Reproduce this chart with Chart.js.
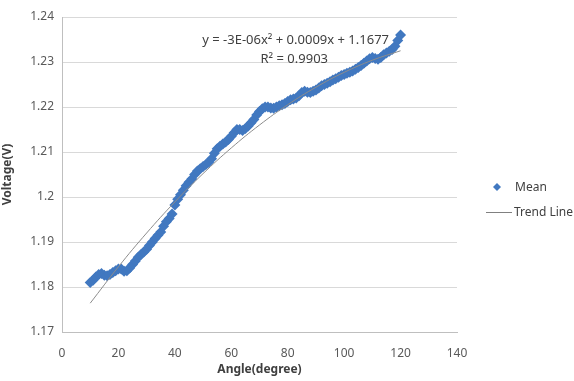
<!DOCTYPE html>
<html>
<head>
<meta charset="utf-8">
<script src="https://cdn.jsdelivr.net/npm/chart.js@4"></script>
<style>
  html, body { margin: 0; padding: 0; background: #fff; }
  #wrap { position: relative; width: 574px; height: 381px; }
</style>
</head>
<body>
<div id="wrap"><canvas id="chart" width="574" height="381"></canvas></div>
<script>
// Angle (degree) of each mean reading
const angles = [
  10, 11, 12, 13, 14, 15, 16, 17, 18, 19, 20, 21, 22, 23, 24, 25, 26, 27, 28, 29,
  30, 31, 32, 33, 34, 35, 36, 37, 38, 39, 40, 41, 42, 43, 44, 45, 46, 47, 48, 49,
  50, 51, 52, 53, 54, 55, 56, 57, 58, 59, 60, 61, 62, 63, 64, 65, 66, 67, 68, 69,
  70, 71, 72, 73, 74, 75, 76, 77, 78, 79, 80, 81, 82, 83, 84, 85, 86, 87, 88, 89,
  90, 91, 92, 93, 94, 95, 96, 97, 98, 99, 100, 101, 102, 103, 104, 105, 106, 107, 108, 109,
  110, 111, 112, 113, 114, 115, 116, 117, 118, 119, 120
];
// Mean voltage (V)
const meanVoltage = [
  1.1810, 1.1815, 1.1822, 1.1828, 1.1830, 1.1826, 1.1825, 1.1828, 1.1832, 1.1836,
  1.1840, 1.1840, 1.1835, 1.1836, 1.1842, 1.1850, 1.1858, 1.1866, 1.1872, 1.1878,
  1.1884, 1.1892, 1.1900, 1.1908, 1.1915, 1.1922, 1.1935, 1.1945, 1.1952, 1.1962,
  1.1982, 1.1995, 1.2005, 1.2015, 1.2025, 1.2033, 1.2040, 1.2050, 1.2058, 1.2063,
  1.2068, 1.2072, 1.2077, 1.2085, 1.2097, 1.2107, 1.2113, 1.2118, 1.2122, 1.2128,
  1.2135, 1.2143, 1.2150, 1.2150, 1.2148, 1.2152, 1.2158, 1.2165, 1.2172, 1.2182,
  1.2190, 1.2196, 1.2200, 1.2200, 1.2198, 1.2197, 1.2200, 1.2203, 1.2205, 1.2208,
  1.2212, 1.2216, 1.2218, 1.2220, 1.2225, 1.2232, 1.2235, 1.2233, 1.2232, 1.2235,
  1.2238, 1.2242, 1.2247, 1.2250, 1.2253, 1.2256, 1.2260, 1.2263, 1.2266, 1.2270,
  1.2272, 1.2275, 1.2277, 1.2280, 1.2284, 1.2288, 1.2292, 1.2297, 1.2302, 1.2307,
  1.2310, 1.2308, 1.2306, 1.2310, 1.2316, 1.2320, 1.2324, 1.2328, 1.2335, 1.2348,
  1.2360
];
// Trend line, every 10 degrees
const trendAngles = [10, 20, 30, 40, 50, 60, 70, 80, 90, 100, 110, 120];
const trendVoltage = [1.1764, 1.1845, 1.1920, 1.1989, 1.2052, 1.2109, 1.2160, 1.2205, 1.2244, 1.2277, 1.2304, 1.2325];

const equationLines = ['y = -3E-06x\u00b2 + 0.0009x + 1.1677', 'R\u00b2 = 0.9903'];
const legendLabels = ['Mean', 'Trend Line'];

const BLUE = '#4178c0';
const FONT = '"Noto Sans", "DejaVu Sans", sans-serif';

const meanPoints = angles.map((a, i) => ({ x: a, y: meanVoltage[i] }));
const trendPoints = trendAngles.map((a, i) => ({ x: a, y: trendVoltage[i] }));

// equation text + legend, drawn on the canvas
const extras = {
  id: 'extras',
  afterDraw(chart) {
    const c = chart.ctx;
    c.save();
    c.fillStyle = '#404040';
    c.font = '13px ' + FONT;
    c.textBaseline = 'middle';
    c.textAlign = 'right';
    c.fillText(equationLines[0], 389, 40);
    c.fillText(equationLines[1], 328, 59);

    // legend
    c.textAlign = 'left';
    c.font = '12px ' + FONT;
    c.fillStyle = BLUE;
    c.beginPath();
    c.moveTo(497, 183); c.lineTo(501, 187); c.lineTo(497, 191); c.lineTo(493, 187);
    c.closePath();
    c.fill();
    c.fillStyle = '#404040';
    c.fillText(legendLabels[0], 515, 188);
    c.strokeStyle = '#808080';
    c.lineWidth = 1;
    c.beginPath();
    c.moveTo(486, 212.5); c.lineTo(512, 212.5);
    c.stroke();
    c.fillText(legendLabels[1], 514, 213);
    c.restore();
  }
};

new Chart(document.getElementById('chart'), {
  type: 'scatter',
  data: {
    datasets: [
      {
        label: legendLabels[1],
        data: trendPoints,
        showLine: true,
        borderColor: '#8c8c8c',
        borderWidth: 1,
        pointRadius: 0,
        tension: 0.4,
        order: 0
      },
      {
        label: legendLabels[0],
        data: meanPoints,
        pointStyle: 'rectRot',
        pointRadius: 5.5,
        backgroundColor: BLUE,
        borderColor: BLUE,
        borderWidth: 0,
        order: 1
      }
    ]
  },
  options: {
    responsive: false,
    animation: false,
    layout: { padding: { top: 17, right: 117, left: 0, bottom: 0 } },
    plugins: { legend: { display: false }, tooltip: { enabled: false } },
    scales: {
      x: {
        type: 'linear',
        min: 0, max: 140,
        ticks: { stepSize: 20, color: '#595959', font: { family: FONT, size: 12 }, padding: 6 },
        grid: { display: false },
        border: { display: true, color: '#bfbfbf' },
        title: { display: true, text: 'Angle(degree)', color: '#404040', font: { family: FONT, size: 12, weight: 'bold' }, padding: { top: 1 } },
        afterFit: s => { s.height = 49; }
      },
      y: {
        min: 1.17, max: 1.24,
        ticks: {
          stepSize: 0.01, color: '#595959', font: { family: FONT, size: 12 }, padding: 8,
          callback: v => String(parseFloat(v.toFixed(2)))
        },
        grid: { color: '#d9d9d9', drawTicks: false },
        border: { display: true, color: '#bfbfbf' },
        title: { display: true, text: 'Voltage(V)', color: '#404040', font: { family: FONT, size: 12, weight: 'bold' }, padding: 0 },
        afterFit: s => { s.width = 62; }
      }
    }
  },
  plugins: [extras]
});
</script>
</body>
</html>
